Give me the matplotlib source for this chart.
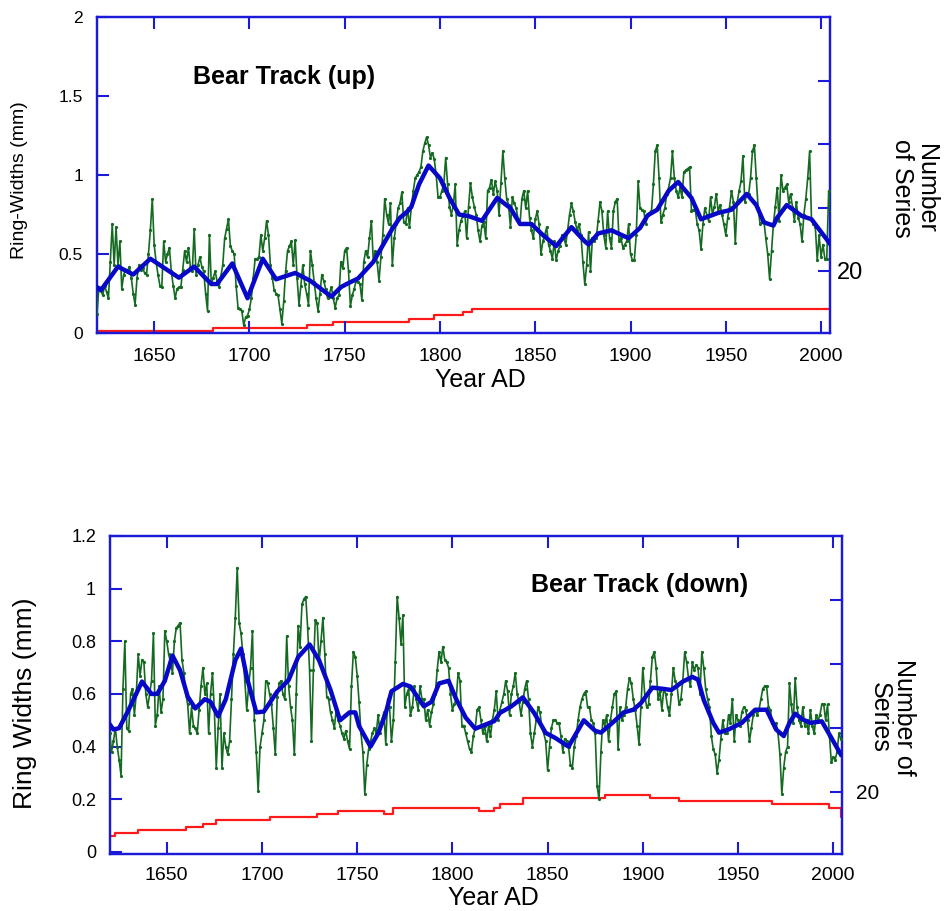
import numpy as np
import matplotlib
matplotlib.use("Agg")
import matplotlib.pyplot as plt
from matplotlib.ticker import FuncFormatter

plt.rcParams['font.family'] = ['Liberation Sans', 'DejaVu Sans']

# ---------------- data: Bear Track (up) ----------------
up_start = 1620
up_rw = [
    0.12, 0.29, 0.27, 0.24, 0.30, 0.26, 0.22, 0.45, 0.69, 0.43,
    0.67, 0.43, 0.58, 0.28, 0.37, 0.40, 0.39, 0.42, 0.35, 0.25,
    0.18, 0.35, 0.43, 0.40, 0.41, 0.38, 0.37, 0.50, 0.65, 0.85,
    0.56, 0.45, 0.37, 0.30, 0.29, 0.58, 0.45, 0.50, 0.54, 0.39,
    0.30, 0.22, 0.28, 0.29, 0.29, 0.40, 0.52, 0.45, 0.54, 0.42,
    0.39, 0.66, 0.37, 0.43, 0.48, 0.42, 0.39, 0.25, 0.14, 0.62,
    0.31, 0.35, 0.39, 0.33, 0.29, 0.36, 0.43, 0.60, 0.66, 0.72,
    0.55, 0.52, 0.50, 0.30, 0.16, 0.15, 0.14, 0.05, 0.10, 0.11,
    0.15, 0.22, 0.35, 0.47, 0.47, 0.48, 0.62, 0.52, 0.60, 0.71,
    0.62, 0.43, 0.35, 0.27, 0.25, 0.24, 0.15, 0.06, 0.20, 0.39,
    0.52, 0.55, 0.58, 0.43, 0.59, 0.35, 0.18, 0.30, 0.43, 0.31,
    0.25, 0.18, 0.52, 0.43, 0.32, 0.22, 0.14, 0.25, 0.37, 0.33,
    0.28, 0.22, 0.25, 0.29, 0.22, 0.16, 0.22, 0.24, 0.45, 0.41,
    0.52, 0.54, 0.39, 0.17, 0.24, 0.28, 0.33, 0.32, 0.31, 0.21,
    0.45, 0.52, 0.48, 0.60, 0.71, 0.46, 0.52, 0.45, 0.33, 0.48,
    0.62, 0.85, 0.75, 0.69, 0.82, 0.43, 0.60, 0.69, 0.79, 0.82,
    0.89, 0.70, 0.69, 0.79, 0.67, 0.80, 0.90, 0.98, 1.00, 1.02,
    1.05, 1.15, 1.20, 1.24, 1.19, 1.11, 1.14, 1.10, 1.00, 0.86,
    0.86, 0.90, 0.94, 1.11, 0.94, 0.80, 0.75, 0.81, 0.94, 0.56,
    0.65, 0.71, 0.74, 0.77, 0.60, 0.80, 0.95, 0.86, 0.80, 0.75,
    0.65, 0.58, 0.68, 0.70, 0.60, 0.90, 0.92, 0.97, 0.88, 0.96,
    0.90, 0.75, 0.95, 1.15, 0.98, 0.85, 0.81, 0.67, 0.86, 0.82,
    0.79, 0.72, 0.69, 0.85, 0.90, 0.79, 0.90, 0.73, 0.65, 0.60,
    0.72, 0.77, 0.69, 0.50, 0.58, 0.62, 0.67, 0.56, 0.52, 0.47,
    0.58, 0.46, 0.52, 0.55, 0.62, 0.60, 0.56, 0.65, 0.75, 0.82,
    0.77, 0.70, 0.65, 0.69, 0.62, 0.45, 0.31, 0.43, 0.64, 0.39,
    0.60, 0.58, 0.60, 0.71, 0.83, 0.77, 0.62, 0.54, 0.77, 0.60,
    0.54, 0.77, 0.83, 0.85, 0.58, 0.60, 0.54, 0.56, 0.58, 0.69,
    0.50, 0.46, 0.46, 0.62, 0.96, 0.79, 0.78, 0.77, 0.69, 0.75,
    0.76, 0.77, 0.94, 1.15, 1.19, 0.98, 0.70, 0.75, 0.79, 0.88,
    0.92, 0.98, 1.15, 0.98, 0.90, 0.86, 0.92, 0.86, 1.02, 1.03,
    1.04, 1.05, 0.77, 0.78, 0.78, 0.69, 0.65, 0.53, 0.69, 0.79,
    0.75, 0.71, 0.86, 0.75, 0.80, 0.88, 0.77, 0.81, 0.75, 0.69,
    0.62, 0.73, 0.80, 0.90, 0.83, 0.57, 0.83, 0.90, 0.96, 1.12,
    0.83, 0.88, 0.88, 0.98, 1.15, 1.19, 0.98, 0.79, 0.69, 0.70,
    0.71, 0.60, 0.50, 0.34, 0.52, 0.69, 0.80, 0.92, 0.71, 1.00,
    0.90, 0.92, 0.94, 0.83, 0.88, 0.80, 0.71, 0.83, 0.73, 0.69,
    0.58, 0.75, 0.85, 0.98, 1.15, 0.71, 0.69, 0.67, 0.46, 0.62,
    0.48, 0.56, 0.47, 0.47, 0.90, 0.77,
]
up_smooth_years = [1620, 1622, 1631, 1639, 1648, 1663, 1671, 1680, 1683, 1691,
                   1699, 1707, 1714, 1724, 1732, 1743, 1748, 1751, 1757, 1765,
                   1775, 1779, 1783, 1785, 1789, 1794, 1800, 1805, 1810, 1815,
                   1822, 1830, 1837, 1842, 1848, 1854, 1861, 1869, 1876, 1878,
                   1883, 1890, 1899, 1905, 1909, 1914, 1920, 1925, 1932, 1937,
                   1946, 1953, 1961, 1966, 1970, 1975, 1977, 1982, 1990, 1995,
                   2000, 2005]
up_smooth = [0.29, 0.27, 0.42, 0.37, 0.47, 0.35, 0.42, 0.31, 0.31, 0.44,
             0.22, 0.47, 0.34, 0.38, 0.33, 0.23, 0.29, 0.31, 0.345, 0.45,
             0.66, 0.73, 0.77, 0.80, 0.94, 1.06, 0.98, 0.855, 0.75, 0.74,
             0.71, 0.855, 0.79, 0.69, 0.69, 0.62, 0.55, 0.67, 0.58, 0.56,
             0.63, 0.65, 0.60, 0.665, 0.745, 0.78, 0.90, 0.956, 0.855, 0.72,
             0.76, 0.78, 0.88, 0.81, 0.70, 0.68, 0.73, 0.81, 0.74, 0.72,
             0.64, 0.56]
up_depth_years = [1620, 1681, 1730, 1744, 1784, 1797, 1812, 1817]
up_depth = [1, 2, 3, 4, 5, 6, 7, 8]

# ---------------- data: Bear Track (down) ----------------
dn_start = 1620
dn_rw = [
    0.45, 0.38, 0.42, 0.47, 0.40, 0.35, 0.29, 0.62, 0.80, 0.47,
    0.46, 0.60, 0.62, 0.52, 0.60, 0.75, 0.67, 0.73, 0.72, 0.60,
    0.55, 0.60, 0.65, 0.83, 0.48, 0.52, 0.63, 0.53, 0.58, 0.84,
    0.80, 0.75, 0.72, 0.68, 0.80, 0.85, 0.86, 0.87, 0.73, 0.68,
    0.60, 0.56, 0.45, 0.55, 0.48, 0.47, 0.45, 0.54, 0.63, 0.70,
    0.60, 0.64, 0.45, 0.60, 0.68, 0.54, 0.32, 0.47, 0.60, 0.32,
    0.45, 0.40, 0.37, 0.42, 0.58, 0.75, 0.89, 1.08, 0.87, 0.83,
    0.75, 0.65, 0.54, 0.63, 0.70, 0.84, 0.50, 0.38, 0.23, 0.40,
    0.45, 0.50, 0.65, 0.64, 0.60, 0.56, 0.47, 0.37, 0.59, 0.64,
    0.65, 0.60, 0.58, 0.82, 0.63, 0.55, 0.50, 0.37, 0.60, 0.86,
    0.78, 0.94, 0.96, 0.97, 0.85, 0.69, 0.42, 0.69, 0.88, 0.87,
    0.72, 0.80, 0.89, 0.75, 0.59, 0.58, 0.53, 0.50, 0.47, 0.54,
    0.50, 0.48, 0.45, 0.43, 0.46, 0.42, 0.39, 0.63, 0.76, 0.74,
    0.67, 0.57, 0.45, 0.38, 0.22, 0.33, 0.39, 0.42, 0.45, 0.47,
    0.45, 0.52, 0.45, 0.50, 0.53, 0.41, 0.58, 0.55, 0.42, 0.50,
    0.72, 0.97, 0.89, 0.79, 0.90, 0.55, 0.60, 0.62, 0.52, 0.55,
    0.63, 0.58, 0.54, 0.63, 0.58, 0.58, 0.50, 0.54, 0.48, 0.53,
    0.56, 0.60, 0.69, 0.76, 0.72, 0.78, 0.73, 0.72, 0.70, 0.60,
    0.54, 0.56, 0.58, 0.68, 0.65, 0.48, 0.48, 0.45, 0.42, 0.39,
    0.38, 0.44, 0.47, 0.54, 0.55, 0.50, 0.45, 0.48, 0.42, 0.48,
    0.44, 0.50, 0.54, 0.61, 0.50, 0.54, 0.57, 0.60, 0.65, 0.61,
    0.52, 0.60, 0.63, 0.68, 0.60, 0.57, 0.52, 0.57, 0.62, 0.65,
    0.58, 0.45, 0.40, 0.45, 0.50, 0.55, 0.53, 0.47, 0.45, 0.42,
    0.31, 0.40, 0.47, 0.50, 0.50, 0.49, 0.49, 0.44, 0.38, 0.43,
    0.42, 0.40, 0.33, 0.32, 0.40, 0.44, 0.50, 0.55, 0.58, 0.60,
    0.61, 0.55, 0.55, 0.50, 0.49, 0.45, 0.25, 0.20, 0.38, 0.50,
    0.48, 0.52, 0.42, 0.50, 0.55, 0.60, 0.61, 0.39, 0.55, 0.50,
    0.52, 0.55, 0.62, 0.66, 0.64, 0.58, 0.54, 0.48, 0.41, 0.55,
    0.70, 0.60, 0.55, 0.56, 0.65, 0.74, 0.76, 0.70, 0.58, 0.61,
    0.54, 0.62, 0.60, 0.55, 0.52, 0.60, 0.70, 0.65, 0.63, 0.56,
    0.58, 0.65, 0.76, 0.72, 0.66, 0.63, 0.72, 0.69, 0.71, 0.70,
    0.60, 0.76, 0.70, 0.62, 0.58, 0.55, 0.44, 0.39, 0.37, 0.30,
    0.35, 0.43, 0.50, 0.45, 0.45, 0.52, 0.49, 0.58, 0.42, 0.52,
    0.50, 0.48, 0.53, 0.55, 0.54, 0.50, 0.42, 0.47, 0.52, 0.54,
    0.52, 0.54, 0.58, 0.62, 0.63, 0.63, 0.55, 0.54, 0.49, 0.48,
    0.49, 0.45, 0.37, 0.22, 0.32, 0.38, 0.40, 0.64, 0.56, 0.49,
    0.66, 0.55, 0.50, 0.48, 0.55, 0.48, 0.50, 0.45, 0.54, 0.48,
    0.45, 0.52, 0.50, 0.52, 0.56, 0.56, 0.50, 0.56, 0.44, 0.34,
    0.36, 0.35, 0.38, 0.45, 0.43,
]
dn_smooth_years = [1620, 1622, 1625, 1630, 1637, 1642, 1645, 1649, 1653, 1657,
                   1661, 1665, 1670, 1673, 1677, 1681, 1686, 1689, 1692, 1697,
                   1701, 1708, 1714, 1719, 1725, 1730, 1736, 1741, 1746, 1749,
                   1751, 1757, 1761, 1765, 1768, 1774, 1778, 1785, 1789, 1793,
                   1798, 1802, 1807, 1812, 1822, 1825, 1831, 1837, 1843, 1849,
                   1854, 1861, 1869, 1875, 1878, 1884, 1890, 1895, 1899, 1905,
                   1910, 1915, 1921, 1926, 1929, 1932, 1937, 1940, 1945, 1952,
                   1959, 1965, 1970, 1974, 1977, 1980, 1984, 1988, 1994, 1998,
                   2004]
dn_smooth = [0.485, 0.465, 0.47, 0.54, 0.647, 0.60, 0.60, 0.65, 0.746, 0.69,
             0.59, 0.545, 0.58, 0.57, 0.515, 0.58, 0.728, 0.772, 0.665, 0.53,
             0.533, 0.609, 0.653, 0.74, 0.788, 0.728, 0.615, 0.50, 0.53, 0.53,
             0.478, 0.40, 0.45, 0.527, 0.61, 0.638, 0.628, 0.553, 0.57, 0.64,
             0.65, 0.58, 0.51, 0.468, 0.497, 0.528, 0.553, 0.587, 0.527, 0.452,
             0.433, 0.40, 0.50, 0.46, 0.453, 0.49, 0.53, 0.54, 0.565, 0.624,
             0.62, 0.615, 0.647, 0.665, 0.654, 0.577, 0.49, 0.453, 0.465, 0.49,
             0.54, 0.54, 0.465, 0.44, 0.49, 0.525, 0.503, 0.49, 0.496, 0.446,
             0.37]
dn_depth_years = [1620, 1623, 1635, 1660, 1669, 1676, 1704, 1729, 1740, 1764,
                  1769, 1814, 1822, 1825, 1837, 1880, 1904, 1919, 1968, 1998,
                  2004]
dn_depth = [6, 7, 8, 9, 10, 11, 12, 13, 14, 13,
            15, 14, 15, 16, 18, 19, 18, 17, 16, 15,
            12]

x_ticks = [1650, 1700, 1750, 1800, 1850, 1900, 1950, 2000]
up_y_ticks = [0, 0.5, 1, 1.5, 2]
dn_y_ticks = [0, 0.2, 0.4, 0.6, 0.8, 1, 1.2]
depth_ticks = [20, 40, 60, 80]
depth_labels = ["20", "", "", ""]

# ---------------- styling ----------------
SPINE = '#1a1ad8'
SMOOTH = '#0808c8'
GREEN = '#156a22'
RED = '#ff1a1a'
TICKLEN = 8.5

W, H = 947, 911
fig = plt.figure(figsize=(W / 100, H / 100), dpi=100)


def fx(px):
    return px / W


def fy(py):
    return 1 - py / H


def style_axes(ax, axr, xlim, ylim, rlim, yticks, ylab_size, xlab_size, rlab_size,
               rpad, ypad, xpad):
    ax.set_xlim(*xlim)
    ax.set_ylim(*ylim)
    axr.set_ylim(*rlim)
    for a in (ax, axr):
        for s in a.spines.values():
            s.set_color(SPINE)
            s.set_linewidth(1.6)
    ax.set_xticks(x_ticks)
    ax.set_yticks(yticks)
    ax.yaxis.set_major_formatter(FuncFormatter(lambda v, p: f"{v:g}"))
    ax.tick_params(axis='x', direction='in', length=TICKLEN, width=1.5, color=SPINE,
                   top=True, bottom=True, labelsize=xlab_size, pad=xpad)
    ax.tick_params(axis='y', direction='in', length=TICKLEN, width=1.5, color=SPINE,
                   left=True, right=False, labelsize=ylab_size, pad=ypad)
    axr.set_yticks(depth_ticks)
    axr.set_yticklabels(depth_labels)
    axr.tick_params(axis='y', direction='in', length=TICKLEN, width=1.5, color=SPINE,
                    labelsize=rlab_size, pad=rpad)


# ---------------- top panel ----------------
ax1 = fig.add_axes([fx(97), fy(333), fx(830 - 97), (333 - 17) / H])
ax1r = ax1.twinx()
up_years = np.arange(up_start, up_start + len(up_rw))
ax1r.step(np.append(up_depth_years, 2006), np.append(up_depth, up_depth[-1]),
          where='post', color=RED, lw=1.6, zorder=2)
ax1.plot(up_years, up_rw, color=GREEN, lw=1.2, marker='o', ms=1.3, zorder=3)
ax1.plot(up_smooth_years, up_smooth, color=SMOOTH, lw=3.2, zorder=4)
ax1.set_zorder(ax1r.get_zorder() + 1)
ax1.patch.set_visible(False)
style_axes(ax1, ax1r, (1620, 2004.7), (0, 2), (0.44, 100.1), up_y_ticks,
           12.5, 14, 17, 5, 10, 11)
fig.text(fx(284), fy(77), "Bear Track (up)", ha='center', va='center',
         fontsize=18, fontweight='bold')
fig.text(fx(480), fy(380), "Year AD", ha='center', va='center', fontsize=18)
fig.text(fx(20), fy(180), "Ring-Widths (mm)", rotation=90, ha='center', va='center', fontsize=14)
fig.text(fx(914), fy(188), "Number\nof Series", rotation=270, ha='center', va='center',
         multialignment='center', fontsize=18, linespacing=1.05)

# ---------------- bottom panel ----------------
ax2 = fig.add_axes([fx(110), fy(854), fx(842 - 110), (854 - 536) / H])
ax2r = ax2.twinx()
dn_years = np.arange(dn_start, dn_start + len(dn_rw))
ax2r.step(np.append(dn_depth_years, 2006), np.append(dn_depth, dn_depth[-1]),
          where='post', color=RED, lw=1.6, zorder=2)
ax2.plot(dn_years, dn_rw, color=GREEN, lw=1.2, marker='o', ms=1.3, zorder=3)
ax2.plot(dn_smooth_years, dn_smooth, color=SMOOTH, lw=3.2, zorder=4)
ax2.set_zorder(ax2r.get_zorder() + 1)
ax2.patch.set_visible(False)
style_axes(ax2, ax2r, (1620.2, 2004.6), (-0.008, 1.2), (0.5, 100), dn_y_ticks,
           13, 14, 15, 10, 10, 9)
fig.text(fx(639.5), fy(585), "Bear Track (down)", ha='center', va='center',
         fontsize=18, fontweight='bold')
fig.text(fx(493), fy(898), "Year AD", ha='center', va='center', fontsize=18)
fig.text(fx(25), fy(703), "Ring Widths (mm)", rotation=90, ha='center', va='center', fontsize=19)
fig.text(fx(892), fy(717), "Number of\nSeries", rotation=270, ha='center', va='center',
         multialignment='center', fontsize=18, linespacing=1.05)

fig.savefig("out.png", dpi=100)
